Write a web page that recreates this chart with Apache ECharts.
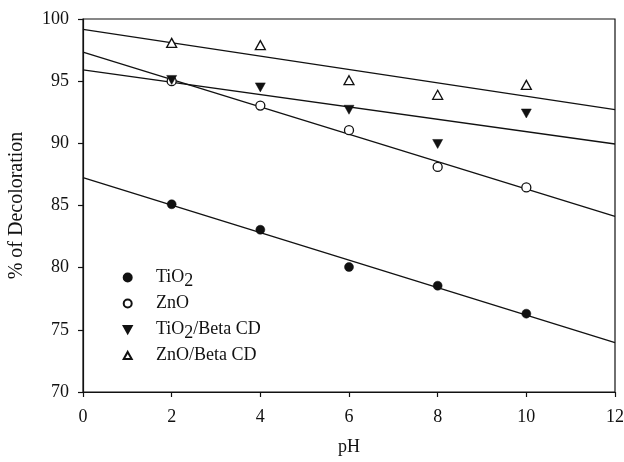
<!DOCTYPE html>
<html><head><meta charset="utf-8">
<script src="https://cdn.jsdelivr.net/npm/echarts@6/dist/echarts.min.js"></script>
<style>html,body{margin:0;padding:0;background:#fff}#c{width:624px;height:462px}</style>
</head><body><div id="c"></div>
<script>
var phValues = [2, 4, 6, 8, 10];
var tio2 = [85.1, 83.05, 80.05, 78.55, 76.3];
var zno = [95.0, 93.04, 91.06, 88.1, 86.45];
var tio2Beta = [95.1, 94.5, 92.7, 89.95, 92.4];
var znoBeta = [98.08, 97.9, 95.08, 93.9, 94.7];
var seriesNames = ['TiO2', 'ZnO', 'TiO2/Beta CD', 'ZnO/Beta CD'];
var xTicks = [0, 2, 4, 6, 8, 10, 12];
var yTicks = [70, 75, 80, 85, 90, 95, 100];

var FONT = '"Liberation Serif", "Times New Roman", serif';

function pairs(ys){ return phValues.map(function(x,i){ return [x, ys[i]]; }); }
function fit(ys){
  var n = ys.length, mx = 0, my = 0;
  for (var i=0;i<n;i++){ mx += phValues[i]; my += ys[i]; }
  mx/=n; my/=n;
  var sxy=0, sxx=0;
  for (var i=0;i<n;i++){ sxy += (phValues[i]-mx)*(ys[i]-my); sxx += (phValues[i]-mx)*(phValues[i]-mx); }
  var b = sxy/sxx, a = my - b*mx;
  var x0 = xTicks[0], x1 = xTicks[xTicks.length-1];
  return [[x0, a + b*x0], [x1, a + b*x1]];
}

var DOWN = 'path://M0,0L10,0L5,9Z';
var UP = 'path://M5,0L10,9L0,9Z';
var allData = [tio2, zno, tio2Beta, znoBeta];
var symbols = [
  {symbol:'circle', fill:'#111', size:9},
  {symbol:'circle', fill:'#fff', size:9},
  {symbol:DOWN, fill:'#111', size:[10,9]},
  {symbol:UP, fill:'#fff', size:[10,9]}
];

var series = [];
allData.forEach(function(ys){
  series.push({
    type:'line', data: fit(ys), showSymbol:false, symbol:'none', silent:true,
    lineStyle:{color:'#111', width:1.3}, z:1
  });
});
allData.forEach(function(ys, k){
  var s = symbols[k];
  series.push({
    name: seriesNames[k], type:'scatter', data: pairs(ys),
    symbol: s.symbol, symbolSize: s.size,
    itemStyle:{color: s.fill, borderColor:'#111', borderWidth: s.fill==='#fff' ? 1.3 : 0.5, opacity:1},
    z:3
  });
});

var chart = echarts.init(document.getElementById('c'), null, {renderer:'canvas'});
chart.setOption({
  animation:false,
  backgroundColor:'#fff',
  grid:{left:83, right:9, top:19, bottom:70, outerBoundsMode:'none', containLabel:false,
    show:true, borderColor:'#111', borderWidth:1.2, backgroundColor:'transparent'},
  xAxis:{
    type:'value', min:xTicks[0], max:xTicks[xTicks.length-1], interval:2,
    name:'pH', nameLocation:'middle', nameGap:46,
    nameTextStyle:{fontFamily:FONT, fontSize:18, color:'#111'},
    axisLine:{show:true, lineStyle:{color:'#111', width:1.2}},
    axisTick:{show:true, length:5, lineStyle:{color:'#111', width:1.2}},
    axisLabel:{fontFamily:FONT, fontSize:18, color:'#111', margin:16},
    splitLine:{show:false}
  },
  yAxis:{
    type:'value', min:yTicks[0], max:yTicks[yTicks.length-1], interval:5,
    name:'% of Decoloration', nameLocation:'middle', nameGap:56, nameRotate:90,
    nameTextStyle:{fontFamily:FONT, fontSize:20, color:'#111'},
    axisLine:{show:true, lineStyle:{color:'#111', width:1.2}},
    axisTick:{show:true, length:5, lineStyle:{color:'#111', width:1.2}},
    axisLabel:{fontFamily:FONT, fontSize:18, color:'#111', margin:14},
    splitLine:{show:false}
  },
  legend:{
    data: [
      {name: seriesNames[0]},
      {name: seriesNames[1]},
      {name: seriesNames[2], icon: DOWN},
      {name: seriesNames[3], icon: UP}
    ],
    orient:'vertical', left:117.7, top:259.5,
    itemWidth:8, itemHeight:8, itemGap:1,
    formatter:function(name){ return name.replace('TiO2', 'TiO{sub|2}'); },
    textStyle:{fontFamily:FONT, fontSize:18, color:'#111', lineHeight:24, padding:[0,0,0,19.3],
      rich:{sub:{fontFamily:FONT, fontSize:18, color:'#111', lineHeight:16, padding:[8,0,0,0]}}}
  },
  series: series
});
</script></body></html>
